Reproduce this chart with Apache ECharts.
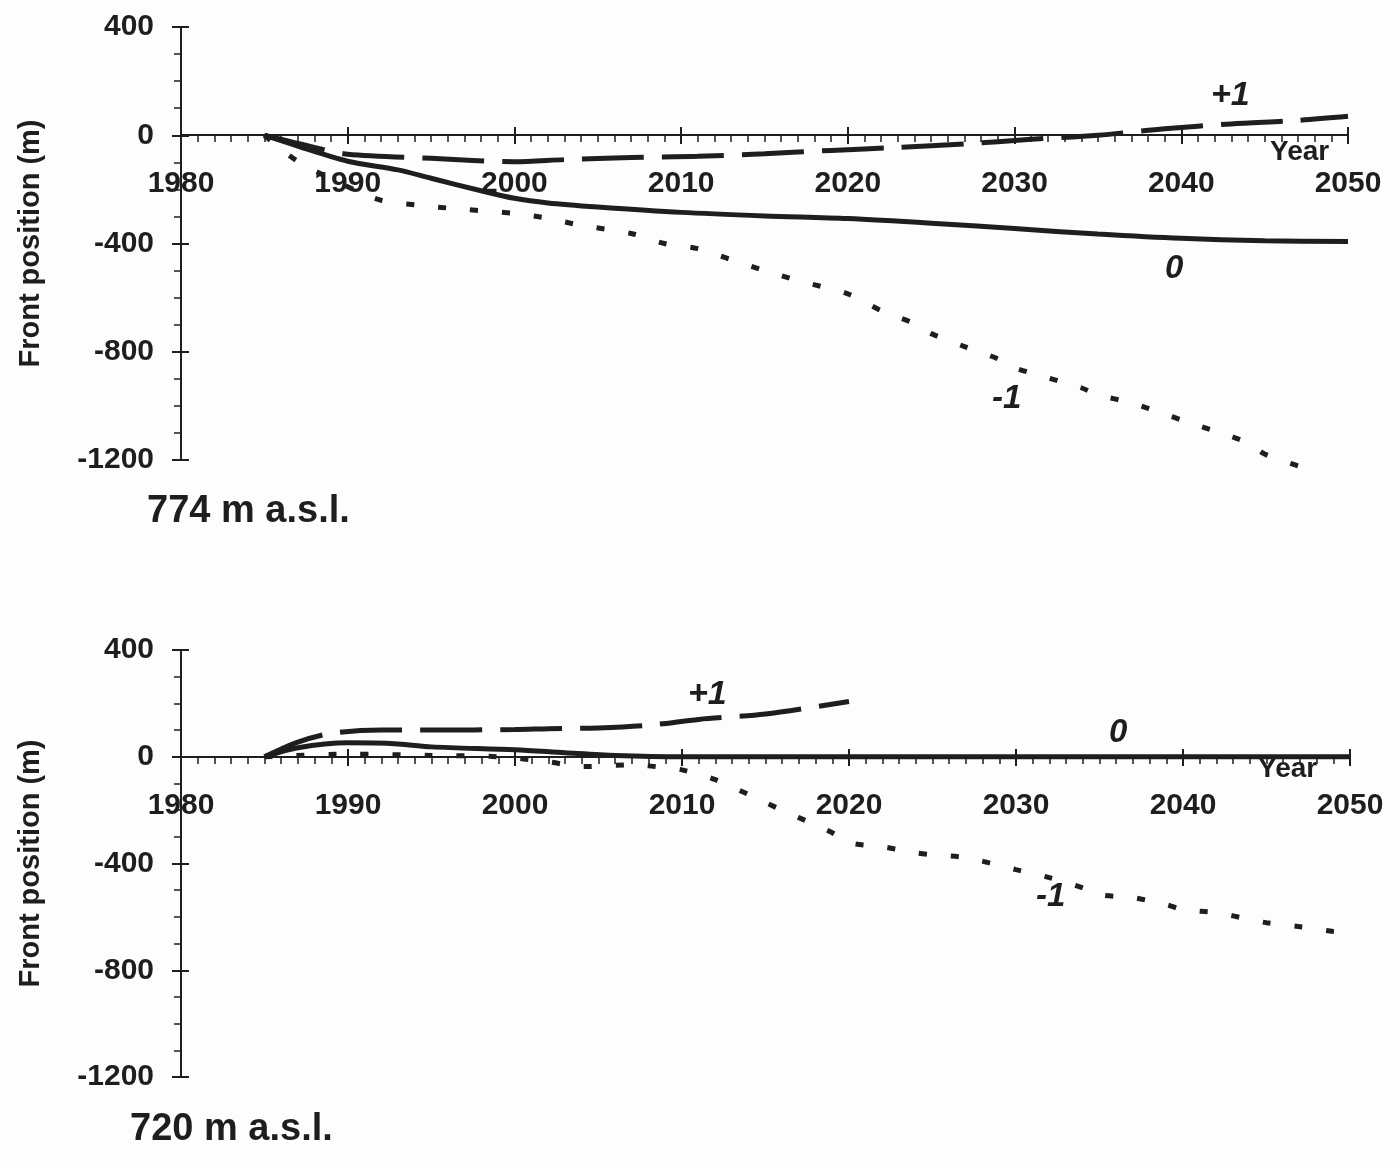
<!DOCTYPE html>
<html>
<head>
<meta charset="utf-8">
<script src="https://cdn.jsdelivr.net/npm/echarts@6/dist/echarts.min.js"></script>
<style>
  html, body { margin: 0; padding: 0; background: #fcfdfc; }
  #main { width: 1400px; height: 1162px; }
</style>
</head>
<body>
<div id="main"></div>
<script>
// 774 m a.s.l. panel
const topYearsZero = [1985, 1987, 1990, 1993, 1995, 1998, 2000, 2002, 2005, 2010, 2015, 2020, 2025, 2030, 2035, 2040, 2045, 2050]
const topZero = [0, -40, -96, -128, -159, -205, -233, -250, -265, -285, -298, -308, -325, -345, -365, -381, -390, -393]
const topYearsPlus = [1985, 1988, 1990, 1995, 2000, 2003, 2007, 2011, 2015, 2019, 2023, 2027, 2031, 2035, 2039, 2043, 2047, 2050]
const topPlus = [0, -45, -70, -85, -98, -90, -82, -78, -68, -56, -45, -32, -15, 0, 24, 42, 55, 70]
const topYearsMinus = [1985, 1987, 1990, 1992, 1995, 1997, 2000, 2002, 2004, 2007, 2009, 2011, 2013, 2015, 2017, 2020, 2022, 2024, 2025, 2027, 2029, 2030, 2032, 2034, 2035, 2037, 2039, 2040, 2042, 2044, 2045, 2047]
const topMinus = [0, -96, -190, -240, -263, -274, -289, -307, -333, -363, -400, -419, -460, -500, -537, -586, -648, -696, -733, -781, -826, -859, -896, -933, -959, -989, -1030, -1052, -1093, -1137, -1178, -1222]

// 720 m a.s.l. panel
const botYearsZero = [1985, 1987, 1990, 1993, 1995, 2000, 2003, 2006, 2010, 2020, 2030, 2040, 2050]
const botZero = [0, 34, 52, 48, 37, 26, 15, 5, 0, 0, 0, 0, 0]
const botYearsPlus = [1985, 1987, 1989, 1992, 1995, 2000, 2002, 2005, 2008, 2011, 2015, 2020]
const botPlus = [0, 55, 88, 100, 100, 102, 105, 108, 118, 140, 160, 207]
const botYearsMinus = [1985, 1990, 1995, 1999, 2002, 2004, 2007, 2009, 2010, 2012, 2014, 2015, 2017, 2019, 2020, 2022, 2024, 2025, 2027, 2030, 2032, 2034, 2035, 2037, 2039, 2040, 2042, 2044, 2045, 2047, 2049, 2050]
const botMinus = [0, 10, 5, 0, -19, -37, -30, -41, -49, -86, -142, -172, -228, -285, -322, -337, -360, -367, -378, -423, -453, -491, -517, -528, -554, -573, -584, -610, -622, -637, -655, -660]

const xTicks = [1980, 1990, 2000, 2010, 2020, 2030, 2040, 2050]
const yTicks = [-1200, -800, -400, 0, 400]

const ink = '#1e1e1e'
const font = 'Liberation Sans, Arial, sans-serif'

const grids = [
  { left: 181, top: 27, width: 1167, height: 433 },
  { left: 181, top: 650, width: 1169, height: 427 }
]

function pairs(xs, ys) {
  return xs.map(function (x, i) { return [x, ys[i]] })
}

// distance from the bottom of the grid up to y = 0
function zeroOffset(g) {
  const yMin = yTicks[0], yMax = yTicks[yTicks.length - 1]
  return -Math.round(g.height * (0 - yMin) / (yMax - yMin))
}

function xAxisOf(gridIndex) {
  return {
    gridIndex: gridIndex,
    type: 'value',
    min: xTicks[0],
    max: xTicks[xTicks.length - 1],
    interval: 10,
    position: 'bottom',
    offset: zeroOffset(grids[gridIndex]),
    axisLine: { onZero: false, lineStyle: { color: ink, width: 2 } },
    axisTick: { length: 9, lineStyle: { color: ink, width: 2 } },
    minorTick: { show: true, splitNumber: 10, length: 7, lineStyle: { color: ink, width: 1.5 } },
    splitLine: { show: false },
    axisLabel: {
      margin: 34,
      color: ink,
      fontFamily: font,
      fontWeight: 'bold',
      fontSize: 30,
      showMinLabel: true,
      showMaxLabel: true,
      formatter: function (v) { return String(v) }
    }
  }
}

// short inner ticks so the major ticks cross the x axis line
function xInnerOf(gridIndex) {
  return {
    gridIndex: gridIndex,
    type: 'value',
    min: xTicks[0],
    max: xTicks[xTicks.length - 1],
    interval: 10,
    position: 'bottom',
    offset: zeroOffset(grids[gridIndex]),
    axisLine: { show: false, onZero: false },
    axisTick: { inside: true, length: 8, lineStyle: { color: ink, width: 2 } },
    axisLabel: { show: false },
    splitLine: { show: false }
  }
}

function yAxisOf(gridIndex) {
  return {
    gridIndex: gridIndex,
    type: 'value',
    position: 'left',
    min: yTicks[0],
    max: yTicks[yTicks.length - 1],
    interval: 400,
    name: 'Front position (m)',
    nameLocation: 'middle',
    nameGap: 136,
    nameTextStyle: { color: ink, fontFamily: font, fontWeight: 'bold', fontSize: 29 },
    axisLine: { show: true, lineStyle: { color: ink, width: 2 } },
    axisTick: { length: 9, lineStyle: { color: ink, width: 2 } },
    minorTick: { show: true, splitNumber: 4, length: 7, lineStyle: { color: ink, width: 1.5 } },
    splitLine: { show: false },
    axisLabel: {
      margin: 27,
      color: ink,
      fontFamily: font,
      fontWeight: 'bold',
      fontSize: 30,
      formatter: function (v) { return String(v) }
    }
  }
}

function yInnerOf(gridIndex) {
  return {
    gridIndex: gridIndex,
    type: 'value',
    position: 'left',
    min: yTicks[0],
    max: yTicks[yTicks.length - 1],
    interval: 400,
    axisLine: { show: false },
    axisTick: { inside: true, length: 8, lineStyle: { color: ink, width: 2 } },
    axisLabel: { show: false },
    splitLine: { show: false }
  }
}

function line(idx, data, kind) {
  const styles = {
    solid: { type: 'solid', width: 5 },
    dashed: { type: [62, 18], width: 5 },
    dotted: { type: [8, 24], width: 5 }
  }
  return {
    type: 'line',
    xAxisIndex: idx,
    yAxisIndex: idx,
    data: data,
    showSymbol: false,
    smooth: 0.3,
    clip: false,
    silent: true,
    lineStyle: Object.assign({ color: ink, cap: 'butt' }, styles[kind])
  }
}

function label(text, left, top, size, italic) {
  return {
    type: 'text',
    left: left,
    top: top,
    style: {
      text: text,
      fill: ink,
      font: (italic ? 'italic ' : '') + 'bold ' + size + 'px ' + font
    }
  }
}

const chart = echarts.init(document.getElementById('main'))
const option = {
  backgroundColor: '#fcfdfc',
  animation: false,
  grid: grids,
  xAxis: [xAxisOf(0), xAxisOf(1), xInnerOf(0), xInnerOf(1)],
  yAxis: [yAxisOf(0), yAxisOf(1), yInnerOf(0), yInnerOf(1)],
  series: [
    line(0, pairs(topYearsZero, topZero), 'solid'),
    line(0, pairs(topYearsPlus, topPlus), 'dashed'),
    line(0, pairs(topYearsMinus, topMinus), 'dotted'),
    line(1, pairs(botYearsZero, botZero), 'solid'),
    line(1, pairs(botYearsPlus, botPlus), 'dashed'),
    line(1, pairs(botYearsMinus, botMinus), 'dotted')
  ],
  graphic: [
    label('+1', 1211, 79, 34, true),
    label('0', 1165, 252, 33, true),
    label('-1', 992, 382, 33, true),
    label('Year', 1270, 138, 28, false),
    label('774 m a.s.l.', 147, 493, 38, false),
    label('+1', 688, 678, 34, true),
    label('0', 1109, 716, 33, true),
    label('-1', 1036, 880, 33, true),
    label('Year', 1258, 755, 28, false),
    label('720 m a.s.l.', 130, 1111, 38, false)
  ]
}
chart.setOption(option)
</script>
</body>
</html>
